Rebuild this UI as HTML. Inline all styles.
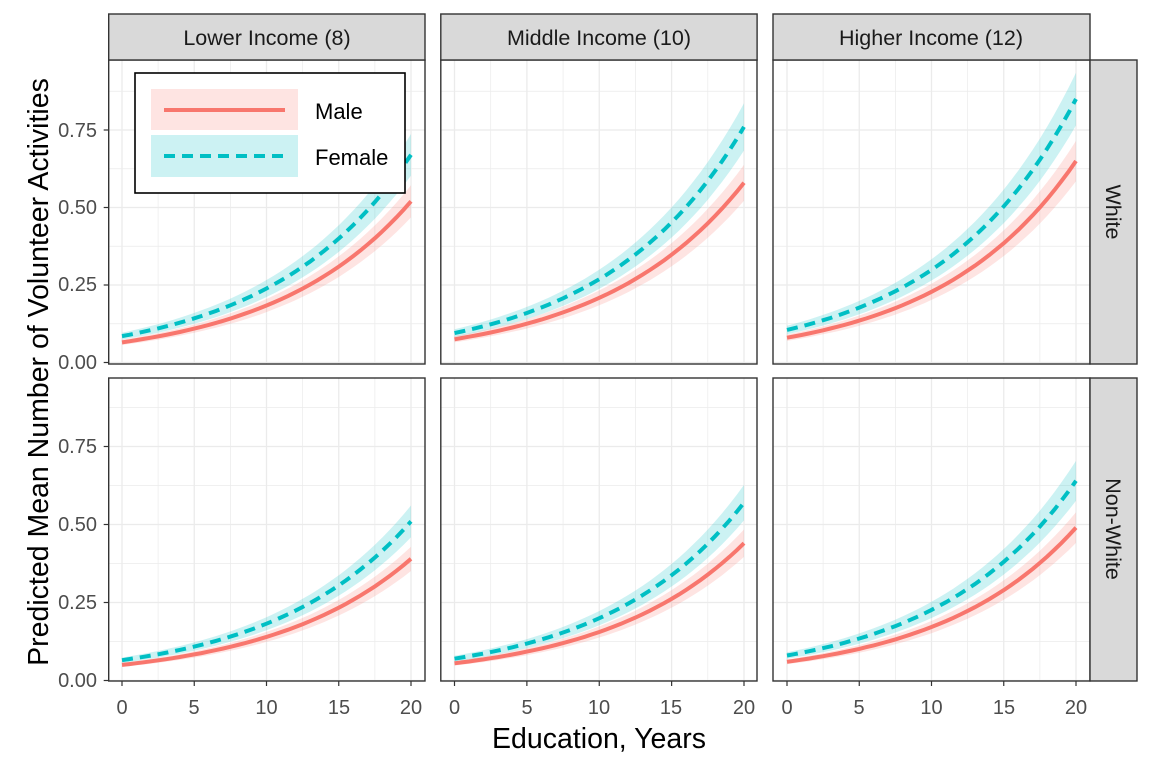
<!DOCTYPE html>
<html><head><meta charset="utf-8"><style>
body{margin:0;background:#fff;}
svg text{font-family:"Liberation Sans",Arial,sans-serif;}
</style></head><body>
<svg id="s" width="1152" height="768" viewBox="0 0 1152 768" xmlns="http://www.w3.org/2000/svg">
<rect width="1152" height="768" fill="#fff"/>
<g id="panels"></g>
<g fill="#D9D9D9" stroke="#333" stroke-width="1.4">
<rect x="108.7" y="14" width="316.3" height="46"/>
<rect x="440.8" y="14" width="316.3" height="46"/>
<rect x="773" y="14" width="317" height="46"/>
<rect x="1090" y="60" width="47" height="304"/>
<rect x="1090" y="378" width="47" height="303"/>
</g>
<g font-size="21.5" fill="#1A1A1A" text-anchor="middle">
<text x="267" y="45">Lower Income (8)</text>
<text x="599" y="45">Middle Income (10)</text>
<text x="931" y="45">Higher Income (12)</text>
<text transform="translate(1106,212) rotate(90)">White</text>
<text transform="translate(1106,529) rotate(90)">Non-White</text>
</g>
<g font-size="20" fill="#4D4D4D" text-anchor="end">
<text x="97" y="369">0.00</text><text x="97" y="291">0.25</text><text x="97" y="214">0.50</text><text x="97" y="137">0.75</text>
<text x="97" y="687">0.00</text><text x="97" y="609">0.25</text><text x="97" y="531">0.50</text><text x="97" y="453">0.75</text>
</g>
<g font-size="20" fill="#4D4D4D" text-anchor="middle">
<text x="122" y="714">0</text><text x="194" y="714">5</text><text x="266.5" y="714">10</text><text x="339" y="714">15</text><text x="411" y="714">20</text>
<text x="454.5" y="714">0</text><text x="527" y="714">5</text><text x="599" y="714">10</text><text x="671" y="714">15</text><text x="744" y="714">20</text>
<text x="787" y="714">0</text><text x="859" y="714">5</text><text x="931.5" y="714">10</text><text x="1004" y="714">15</text><text x="1076" y="714">20</text>
</g>
<text x="599" y="748" font-size="28.5" text-anchor="middle" fill="#000">Education, Years</text>
<text transform="translate(48,372) rotate(-90)" font-size="28.5" text-anchor="middle" fill="#000">Predicted Mean Number of Volunteer Activities</text>
<rect x="135" y="73" width="270" height="120" fill="#fff" stroke="#000" stroke-width="1.6"/>
<rect x="151" y="89" width="147" height="41" fill="#F8766D" fill-opacity="0.2"/>
<rect x="151" y="135" width="147" height="42" fill="#00BFC4" fill-opacity="0.2"/>
<line x1="164" y1="110" x2="285" y2="110" stroke="#F8766D" stroke-width="4"/>
<line x1="164" y1="156" x2="285" y2="156" stroke="#00BFC4" stroke-width="4" stroke-dasharray="11 7"/>
<text x="315" y="119" font-size="22" fill="#000">Male</text>
<text x="315" y="165" font-size="22" fill="#000">Female</text>
</svg>
<script>
var NS="http://www.w3.org/2000/svg",g=document.getElementById("panels");
function el(t,a){var e=document.createElementNS(NS,t);for(var k in a)e.setAttribute(k,a[k]);g.appendChild(e);return e;}
var cols=[{l:108.7,r:425,x0:122,x20:411},{l:440.8,r:757,x0:454.5,x20:744},{l:773,r:1090,x0:787,x20:1076}];
var rows=[{t:60,b:364,y0:362.5,pu:310},{t:378,b:681,y0:680.5,pu:312}];
var data=[[[0.065,0.52,0.085,0.67],[0.075,0.58,0.095,0.76],[0.08,0.65,0.105,0.85]],
[[0.05,0.39,0.065,0.51],[0.055,0.44,0.07,0.57],[0.06,0.49,0.08,0.64]]];
for(var ri=0;ri<2;ri++)for(var ci=0;ci<3;ci++){
var c=cols[ci],r=rows[ri],d=data[ri][ci];
var X=function(v){return c.x0+(c.x20-c.x0)*v/20;},Y=function(v){return r.y0-r.pu*v;};
el("rect",{x:c.l,y:r.t,width:c.r-c.l,height:r.b-r.t,fill:"#fff"});
for(var v=0;v<=22.5;v+=2.5){var major=(v%5==0);if(X(v)<c.r)el("line",{x1:X(v),x2:X(v),y1:r.t,y2:r.b,stroke:"#EBEBEB","stroke-width":major?1.3:0.7});}
for(var v=0;v<=0.95;v+=0.125){var major=(Math.round(v*8)%2==0);el("line",{x1:c.l,x2:c.r,y1:Y(v),y2:Y(v),stroke:"#EBEBEB","stroke-width":major?1.3:0.7});}
var ser=[[d[0],d[1],"#F8766D",null],[d[2],d[3],"#00BFC4","11 7"]],paths=[];
ser.forEach(function(s){var a=s[0],b=Math.log(s[1]/s[0])/20,up="",lo="",ln="";
for(var i=0;i<=40;i++){var x=i/2,m=a*Math.exp(b*x),k=0.13-0.03*x/20;
up+=(i?"L":"M")+X(x).toFixed(1)+","+Y(m*(1+k)).toFixed(1);
lo="L"+X(x).toFixed(1)+","+Y(m*(1-k)).toFixed(1)+lo;
ln+=(i?"L":"M")+X(x).toFixed(1)+","+Y(m).toFixed(1);}
paths.push([up+lo+"Z",ln,s[2],s[3]]);});
paths.forEach(function(p){el("path",{d:p[0],fill:p[2],"fill-opacity":0.2});});
paths.forEach(function(p){var o={d:p[1],fill:"none",stroke:p[2],"stroke-width":4};if(p[3])o["stroke-dasharray"]=p[3];el("path",o);});
el("rect",{x:c.l,y:r.t,width:c.r-c.l,height:r.b-r.t,fill:"none",stroke:"#333","stroke-width":1.4});
if(ci==0)[0,0.25,0.5,0.75].forEach(function(v){el("line",{x1:c.l-5,x2:c.l,y1:Y(v),y2:Y(v),stroke:"#333","stroke-width":1.2});});
if(ri==1)[0,5,10,15,20].forEach(function(v){el("line",{x1:X(v),x2:X(v),y1:r.b,y2:r.b+5,stroke:"#333","stroke-width":1.2});});
}
</script>
</body></html>
